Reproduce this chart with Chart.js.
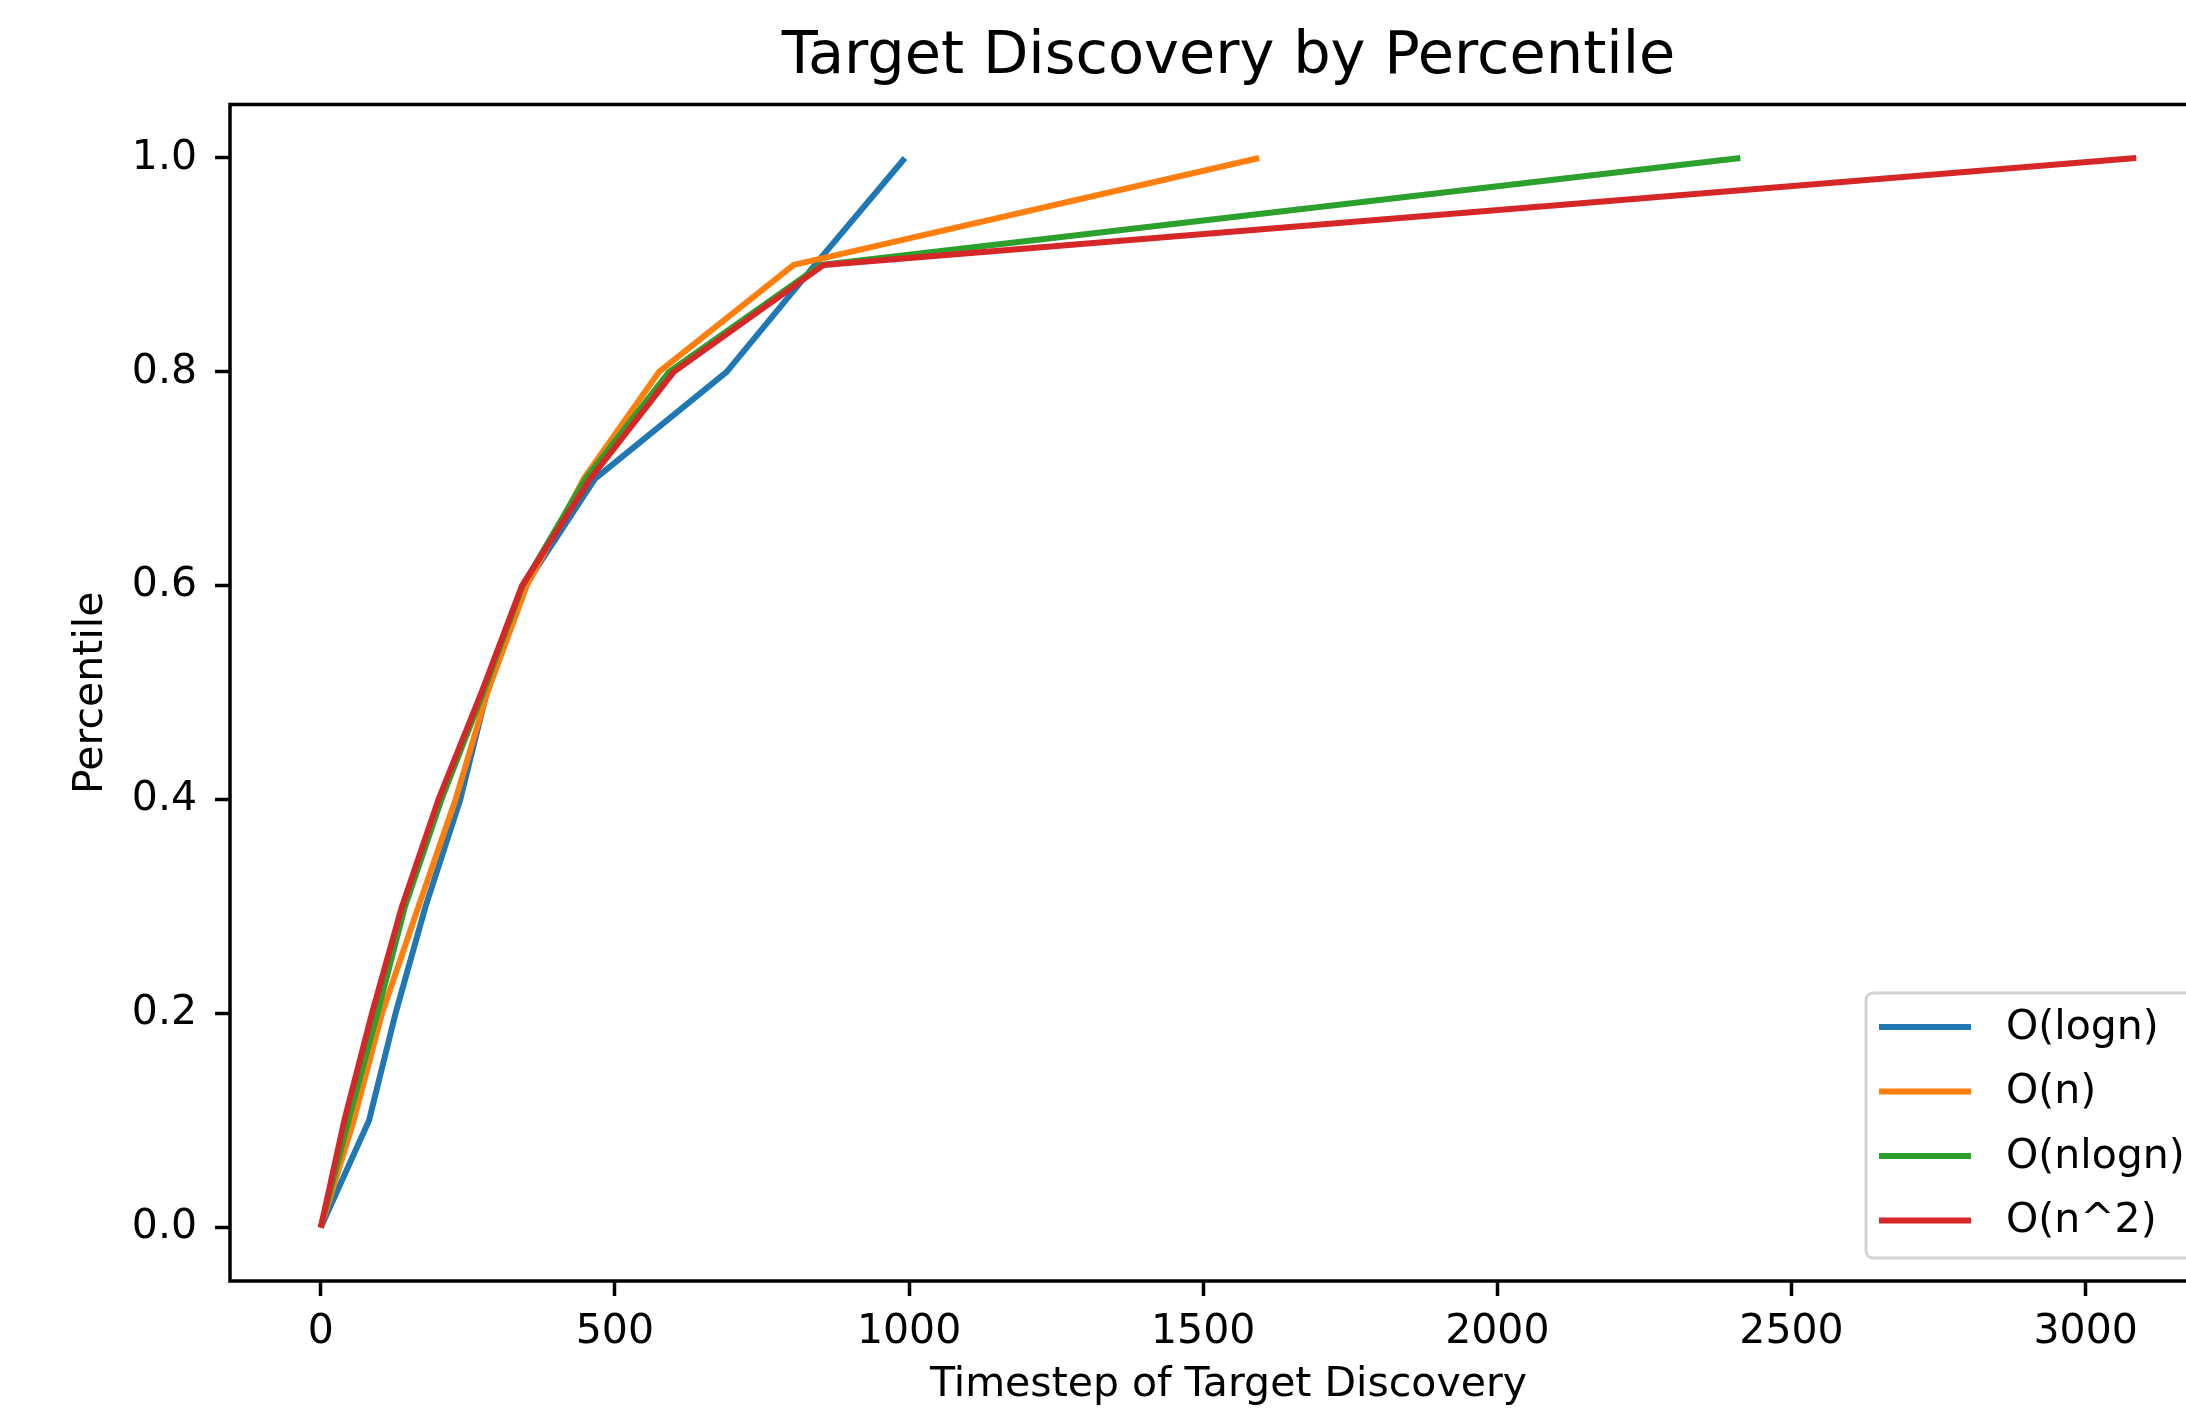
<!DOCTYPE html>
<html>
<head>
<meta charset="utf-8">
<script src="https://cdn.jsdelivr.net/npm/chart.js@4.4.1/dist/chart.umd.min.js"></script>
<style>
  html, body { margin: 0; padding: 0; background: #fff; overflow: hidden; width: 2186px; height: 1410px; }
  canvas { display: block; }
</style>
</head>
<body>
<canvas id="c" width="2240" height="1410" style="width:2240px;height:1410px"></canvas>
<script>
// ---- data ----
const chartTitle = 'Target Discovery by Percentile';
const xAxisLabel = 'Timestep of Target Discovery';
const yAxisLabel = 'Percentile';
const seriesNames = ['O(logn)', 'O(n)', 'O(nlogn)', 'O(n^2)'];
const seriesColors = ['#1f77b4', '#ff7f0e', '#2ca02c', '#d62728'];
const percentiles = [0, 0.1, 0.2, 0.3, 0.4, 0.5, 0.6, 0.7, 0.8, 0.9, 1.0];
const timestepsLogN  = [0, 82, 127, 178, 237, 282, 347, 466, 690, 840, 993];
const timestepsN     = [0, 56, 104, 166, 229, 283, 350, 447, 575, 804, 1595];
const timestepsNLogN = [0, 47, 96, 143, 205, 276, 343, 450, 592, 850, 2413];
const timestepsN2    = [0, 40, 87, 138, 200, 273, 342, 458, 600, 855, 3086];
const xTicks = [0, 500, 1000, 1500, 2000, 2500, 3000];
const yTicks = [0, 0.2, 0.4, 0.6, 0.8, 1.0];
const xRange = [-154.3, 3240.3];
const yRange = [-0.05, 1.05];

const FONT = '"DejaVu Sans", sans-serif';
const seriesX = [timestepsLogN, timestepsN, timestepsNLogN, timestepsN2];

const datasets = seriesNames.map((name, i) => ({
  label: name,
  data: seriesX[i].map((x, k) => ({ x: x, y: percentiles[k] })),
  borderColor: seriesColors[i],
  backgroundColor: seriesColors[i],
  borderWidth: 6,
  pointRadius: 0,
  pointHoverRadius: 0,
  tension: 0,
  fill: false,
  borderJoinStyle: 'round',
  order: seriesNames.length - 1 - i
}));

const frameAndLegend = {
  id: 'frameAndLegend',
  afterDatasetsDraw(chart) {
    const { ctx, chartArea: a } = chart;
    ctx.save();
    ctx.strokeStyle = '#000';
    ctx.lineWidth = 3.5;
    ctx.strokeRect(a.left, a.top, a.right - a.left, a.bottom - a.top);
    ctx.restore();
  },
  afterDraw(chart) {
    const { ctx, chartArea: a } = chart;
    const w = 340, h = 265;
    const right = a.right - 21, bottom = a.bottom - 23;
    const left = right - w, top = bottom - h;
    ctx.save();
    ctx.beginPath();
    ctx.roundRect(left, top, w, h, 7);
    ctx.fillStyle = 'rgba(255,255,255,0.8)';
    ctx.fill();
    ctx.strokeStyle = 'rgba(204,204,204,0.85)';
    ctx.lineWidth = 3;
    ctx.stroke();
    ctx.font = '41px ' + FONT;
    ctx.textBaseline = 'middle';
    ctx.textAlign = 'left';
    chart.data.datasets.forEach((ds, i) => {
      const y = top + 34 + i * 64.5;
      ctx.strokeStyle = ds.borderColor;
      ctx.lineWidth = 6;
      ctx.beginPath();
      ctx.moveTo(left + 13, y);
      ctx.lineTo(left + 105, y);
      ctx.stroke();
      ctx.fillStyle = '#000';
      ctx.fillText(ds.label, left + 140, y + 1);
    });
    ctx.restore();
  }
};

new Chart(document.getElementById('c'), {
  type: 'line',
  data: { datasets: datasets },
  plugins: [frameAndLegend],
  options: {
    responsive: false,
    animation: false,
    devicePixelRatio: 1,
    layout: { padding: { left: 0, top: 0, right: 13, bottom: 0 } },
    plugins: {
      legend: { display: false },
      tooltip: { enabled: false },
      title: {
        display: true,
        text: chartTitle,
        fullSize: false,
        color: '#000',
        font: { family: FONT, size: 59, weight: 'normal', lineHeight: 1.2 },
        padding: { top: 22.6, bottom: 11.1 }
      }
    },
    scales: {
      x: {
        type: 'linear',
        min: xRange[0],
        max: xRange[1],
        afterBuildTicks: s => { s.ticks = xTicks.map(v => ({ value: v })); },
        afterFit: s => { s.height = 129; },
        ticks: {
          autoSkip: false, maxRotation: 0, minRotation: 0,
          color: '#000', padding: 12,
          font: { family: FONT, size: 41 },
          callback: v => String(v)
        },
        grid: { display: true, drawOnChartArea: false, drawTicks: true, tickLength: 15, tickWidth: 3.5, tickColor: '#000' },
        border: { display: false },
        title: { display: true, text: xAxisLabel, color: '#000', font: { family: FONT, size: 41, lineHeight: 1.2 }, padding: { top: 0, bottom: 0 } }
      },
      y: {
        type: 'linear',
        min: yRange[0],
        max: yRange[1],
        afterBuildTicks: s => { s.ticks = yTicks.map(v => ({ value: v })); },
        afterFit: s => { s.width = 230; },
        ticks: {
          autoSkip: false,
          color: '#000', padding: 18,
          font: { family: FONT, size: 41 },
          callback: v => Number(v).toFixed(1)
        },
        grid: { display: true, drawOnChartArea: false, drawTicks: true, tickLength: 15, tickWidth: 3.5, tickColor: '#000' },
        border: { display: false },
        title: { display: true, text: yAxisLabel, color: '#000', font: { family: FONT, size: 41, lineHeight: 1.2 }, padding: { top: 66.4, bottom: 0 } }
      }
    }
  }
});
</script>
</body>
</html>
